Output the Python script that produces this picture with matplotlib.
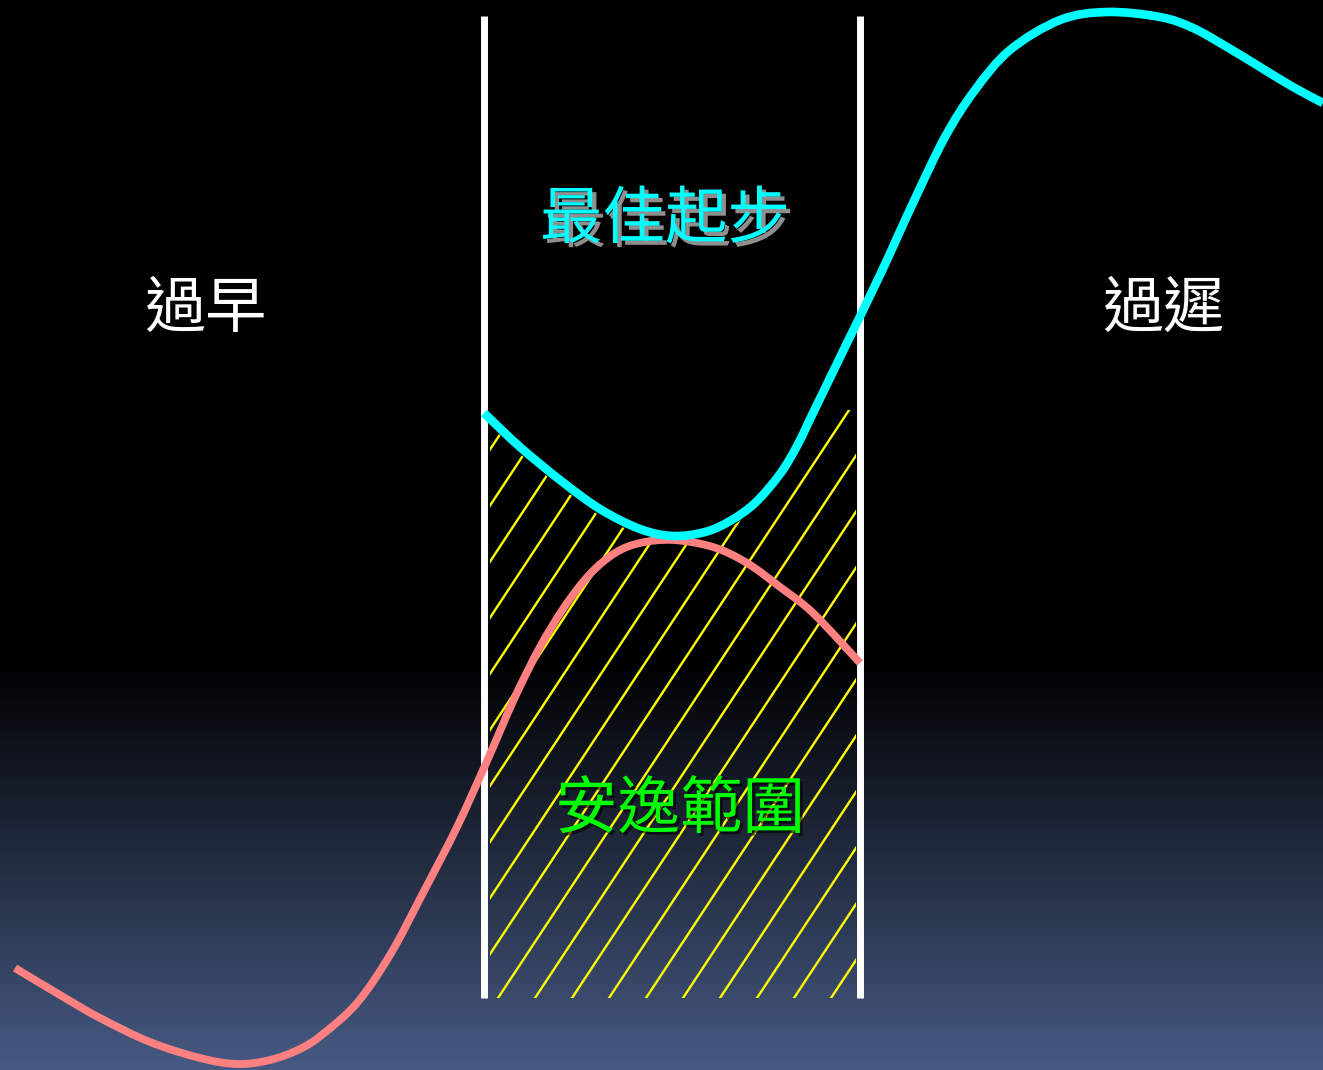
import numpy as np
import matplotlib
matplotlib.use('Agg')
import matplotlib.pyplot as plt
import matplotlib.patheffects as pe
from matplotlib.path import Path
from matplotlib.patches import PathPatch

plt.rcParams['font.family'] = ['Noto Sans CJK TC', 'DejaVu Sans']

# curves (pixel coordinates, y downwards)
cyan_x = [484, 520, 560, 600, 640, 673, 705, 730, 755, 780, 797, 813, 830, 847, 880, 913,
          945, 975, 1010, 1060, 1107, 1160, 1193, 1227, 1260, 1293, 1323]
cyan_y = [413, 447, 480, 509, 529, 536, 532, 521, 503, 474, 446, 413, 378, 343, 275, 203,
          137, 90, 50, 20, 12, 17, 28, 47, 67, 87, 103]

pink_x = [15, 60, 100, 150, 200, 237, 270, 300, 323, 357, 390, 423, 457, 487, 515, 540,
          565, 590, 615, 640, 673, 713, 747, 780, 813, 860]
pink_y = [968, 995, 1018, 1042, 1058, 1064, 1060, 1049, 1034, 1003, 955, 893, 827, 761, 697,
          647, 606, 574, 553, 543, 540, 547, 563, 587, 613, 663]

zone_left, zone_right = 484, 860
zone_top, zone_bottom = 16, 998

labels = ['過早', '過遲', '最佳起步', '安逸範圍']


def smooth_path(xs, ys):
    # bezier path through the points (smoothed line, like the slide's curve)
    p = np.column_stack([xs, ys]).astype(float)
    n = len(p)
    verts = [p[0]]
    codes = [Path.MOVETO]
    for i in range(n - 1):
        p0 = p[max(i - 1, 0)]
        p1 = p[i]
        p2 = p[i + 1]
        p3 = p[min(i + 2, n - 1)]
        verts += [p1 + (p2 - p0) / 6, p2 - (p3 - p1) / 6, p2]
        codes += [Path.CURVE4] * 3
    return Path(verts, codes)


W, H = 1323, 1070
fig = plt.figure(figsize=(W / 100, H / 100), dpi=100)
ax = fig.add_axes([0, 0, 1, 1])
ax.set_xlim(0, W)
ax.set_ylim(H, 0)
ax.axis('off')

# background: black, fading to slate blue at the bottom
rows = np.arange(H)
t = np.clip((rows - 660) / (H - 660), 0, 1)
bottom = np.array([70, 90, 131]) / 255
grad = t[:, None, None] * bottom[None, None, :]
grad = np.repeat(grad, 2, axis=1)
ax.imshow(grad, extent=[0, W, H, 0], aspect='auto', zorder=0)

# white zone borders
for xz in (zone_left, zone_right):
    ax.plot([xz, xz], [zone_top, zone_bottom], color='white', lw=5.0,
            solid_capstyle='butt', zorder=2)

# yellow hatching below the cyan curve
cx = np.array(cyan_x)
cy = np.array(cyan_y)
sel = (cx > zone_left + 6) & (cx < zone_right - 4)
top_x = np.concatenate([[zone_left + 6], cx[sel], [zone_right - 4]])
top_y = np.maximum(np.interp(top_x, cx, cy) + 7, 410)
verts = [(zone_left + 6, zone_bottom)] + list(zip(top_x, top_y)) + \
        [(zone_right - 4, zone_bottom), (zone_left + 6, zone_bottom)]
clip = PathPatch(Path(verts), transform=ax.transData, facecolor='none', edgecolor='none')
ax.add_patch(clip)
slope = 0.66
for x0 in np.arange(498 - 37 * 18, zone_right + 20, 37):
    ln, = ax.plot([x0, x0 + slope * zone_bottom], [zone_bottom, 0], color='#ffff00',
                  lw=1.7, zorder=1.5)
    ln.set_clip_path(clip)

# curves
ax.add_patch(PathPatch(smooth_path(pink_x, pink_y), facecolor='none', edgecolor='#ff8080',
                       lw=5.6, capstyle='butt', zorder=3))
ax.add_patch(PathPatch(smooth_path(cyan_x, cyan_y), facecolor='none', edgecolor='#00ffff',
                       lw=6.2, capstyle='butt', zorder=4))

# labels
ax.text(205, 310, labels[0], color='white', fontsize=44, ha='center', va='center', zorder=5)
ax.text(1163, 310, labels[1], color='white', fontsize=44, ha='center', va='center', zorder=5)
ax.text(665, 220, labels[2], color='#00ffff', fontsize=45, fontweight='medium',
        ha='center', va='center', zorder=5,
        path_effects=[pe.SimplePatchShadow(offset=(3, -3), shadow_rgbFace='#a8a8a8', alpha=0.85),
                      pe.Normal()])
ax.text(680, 810, labels[3], color='#00ff00', fontsize=45, ha='center', va='center', zorder=5,
        path_effects=[pe.SimplePatchShadow(offset=(2, -2), shadow_rgbFace='#000000', alpha=0.6),
                      pe.Normal()])

fig.savefig('out.png', dpi=100, facecolor='black')
